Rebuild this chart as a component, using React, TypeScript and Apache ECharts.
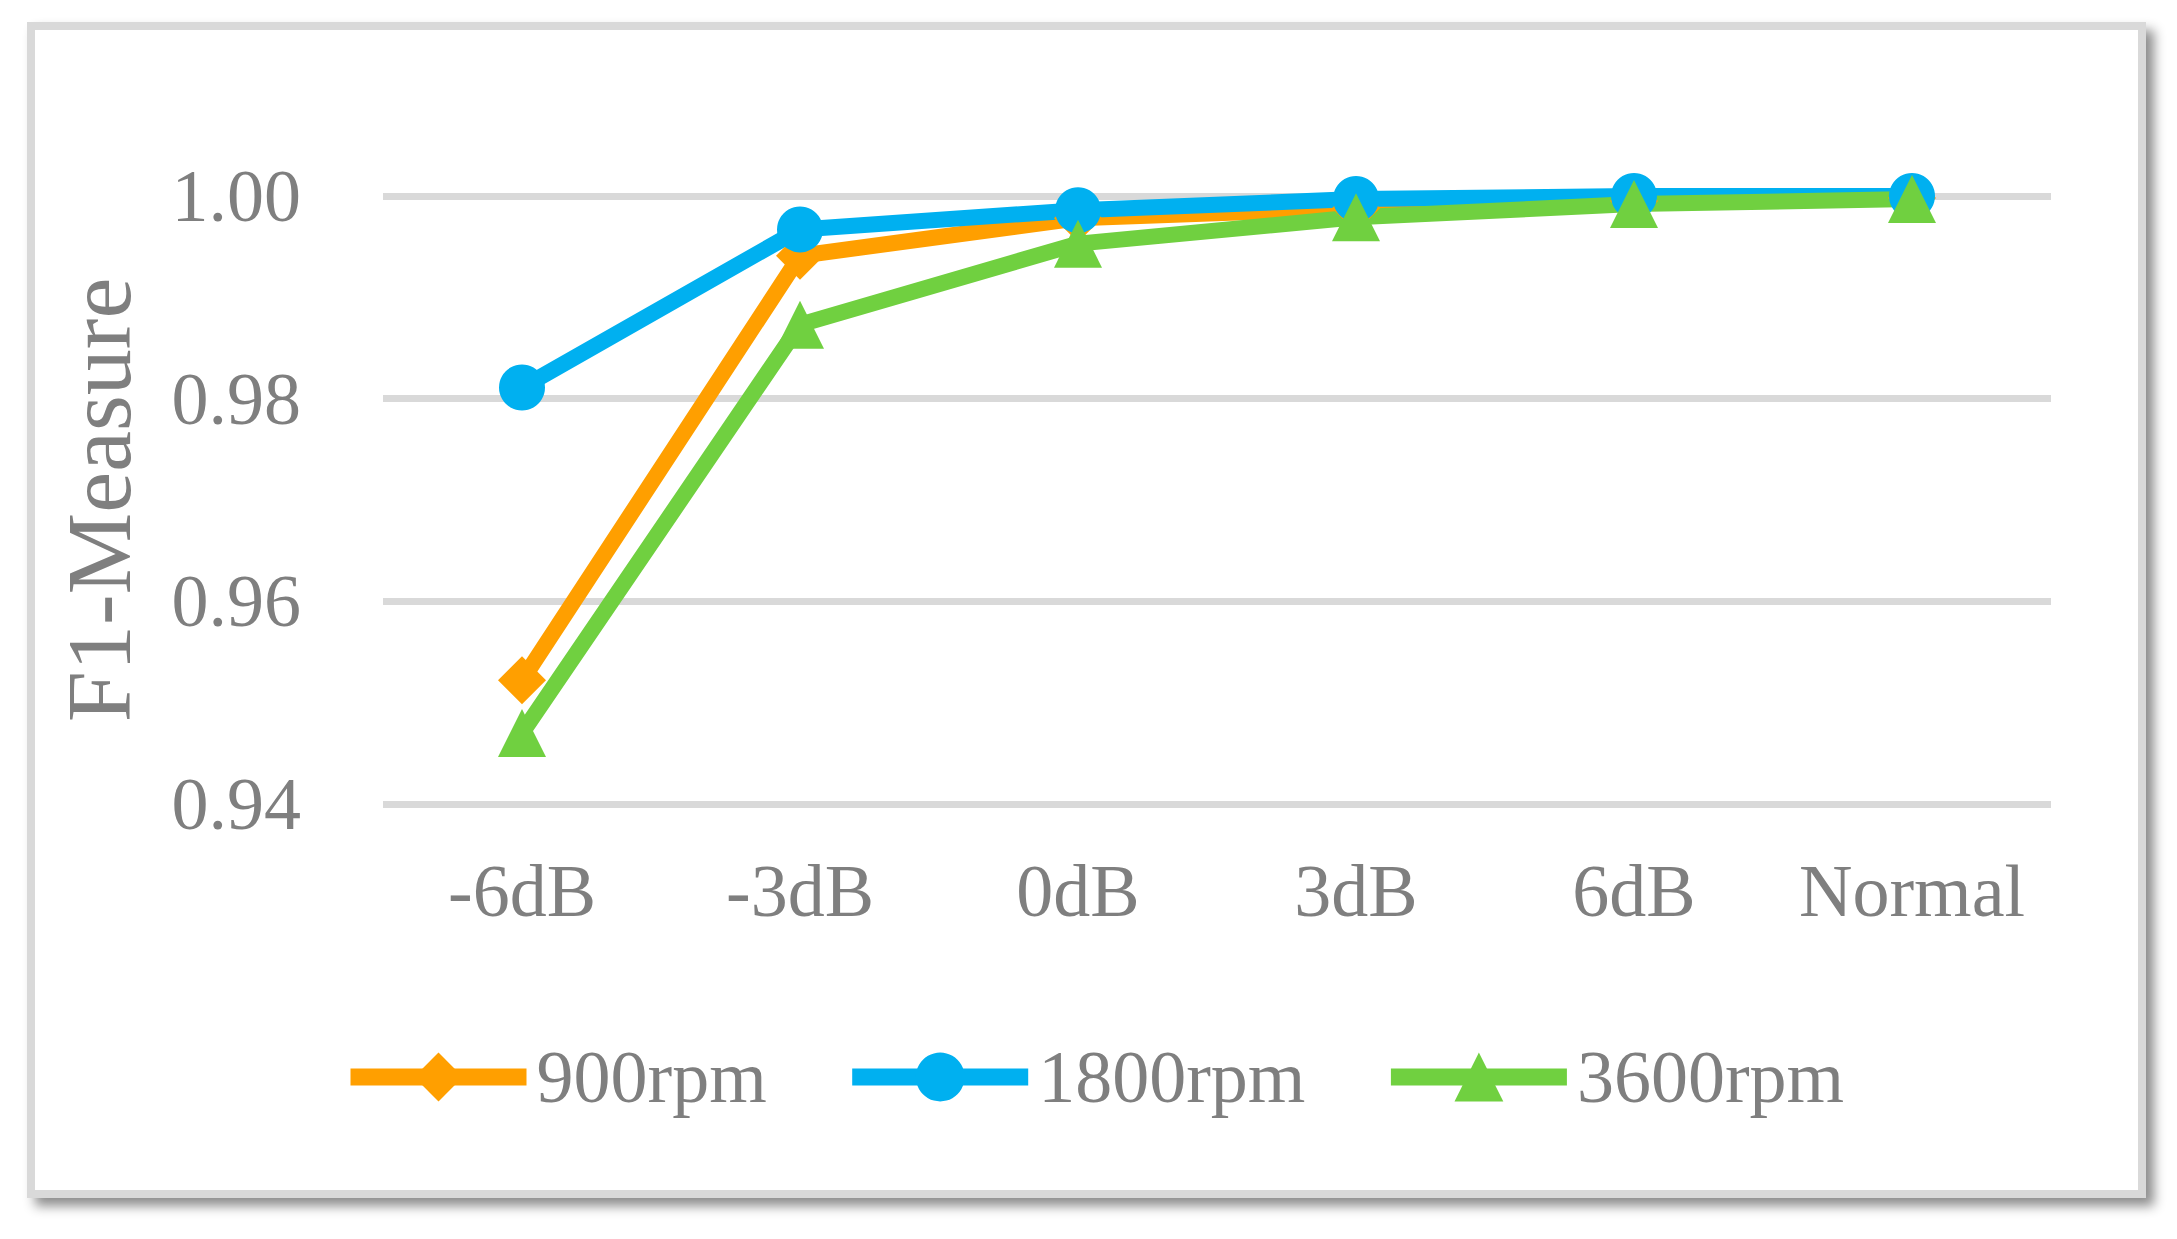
import React, { useEffect, useRef } from "react";
import * as echarts from "echarts";

const categories = ["-6dB", "-3dB", "0dB", "3dB", "6dB", "Normal"];
const seriesNames = ["900rpm", "1800rpm", "3600rpm"];
const values900 = [0.9522, 0.9941, 0.9978, 0.9988, 0.9995, 0.9998];
const values1800 = [0.9811, 0.9967, 0.9986, 0.9997, 1.0, 1.0];
const values3600 = [0.947, 0.9873, 0.9953, 0.9979, 0.9992, 0.9997];
const yMin = 0.94;
const yMax = 1.0;
const yInterval = 0.02;
const yAxisTitle = "F1-Measure";

const colors = ["#FF9F00", "#00B0F0", "#70D040"];
const symbols = ["diamond", "circle", "triangle"];
const symbolSizes = [48, 46, 48];
const FONT = "'Liberation Serif', 'Times New Roman', serif";
const TEXT = "#7F7F7F";

export default function App() {
  const ref = useRef<HTMLDivElement>(null);
  useEffect(() => {
    document.body.style.margin = "0";
    const chart = echarts.init(ref.current!, undefined, { renderer: "svg" });
    const data = [values900, values1800, values3600];
    chart.setOption({
      animation: false,
      backgroundColor: "transparent",
      graphic: [
        {
          type: "rect",
          z: -10,
          shape: { x: 31, y: 26, width: 2111, height: 1168 },
          style: {
            fill: "#FFFFFF",
            stroke: "#D9D9D9",
            lineWidth: 8,
            shadowBlur: 12,
            shadowOffsetX: 8,
            shadowOffsetY: 8,
            shadowColor: "rgba(0,0,0,0.45)",
          },
        },
      ],
      grid: { left: 383, right: 126, top: 196, bottom: 435, containLabel: false },
      legend: {
        left: 337,
        top: 1035,
        itemWidth: 176,
        itemHeight: 61,
        itemGap: 77,
        data: seriesNames,
        lineStyle: { width: 17, cap: "butt" },
        textStyle: { fontFamily: FONT, fontSize: 74, color: TEXT, lineHeight: 74, padding: [0, 0, 0, 5] },
      },
      xAxis: {
        type: "category",
        data: categories,
        boundaryGap: true,
        axisLine: { show: false },
        axisTick: { show: false },
        axisLabel: { fontFamily: FONT, fontSize: 74, color: TEXT, lineHeight: 74, margin: 50, interval: 0 },
      },
      yAxis: {
        type: "value",
        min: yMin,
        max: yMax,
        interval: yInterval,
        name: yAxisTitle,
        nameLocation: "middle",
        nameGap: 238,
        nameTextStyle: { fontFamily: FONT, fontSize: 92, color: TEXT, lineHeight: 92 },
        axisLine: { show: false },
        axisTick: { show: false },
        axisLabel: {
          fontFamily: FONT,
          fontSize: 74,
          color: TEXT,
          lineHeight: 74,
          margin: 82,
          formatter: (v: number) => v.toFixed(2),
        },
        splitLine: { lineStyle: { color: "#D9D9D9", width: 7 } },
      },
      series: seriesNames.map((name, i) => ({
        name,
        type: "line",
        data: data[i],
        symbol: symbols[i],
        symbolSize: symbolSizes[i],
        showAllSymbol: true,
        clip: false,
        itemStyle: { color: colors[i] },
        lineStyle: { color: colors[i], width: 16, cap: "round", join: "round" },
        emphasis: { disabled: true },
      })),
    });
    return () => chart.dispose();
  }, []);
  return (
    <div
      ref={ref}
      style={{ position: "fixed", left: 0, top: 0, width: 2177, height: 1239 }}
    />
  );
}
